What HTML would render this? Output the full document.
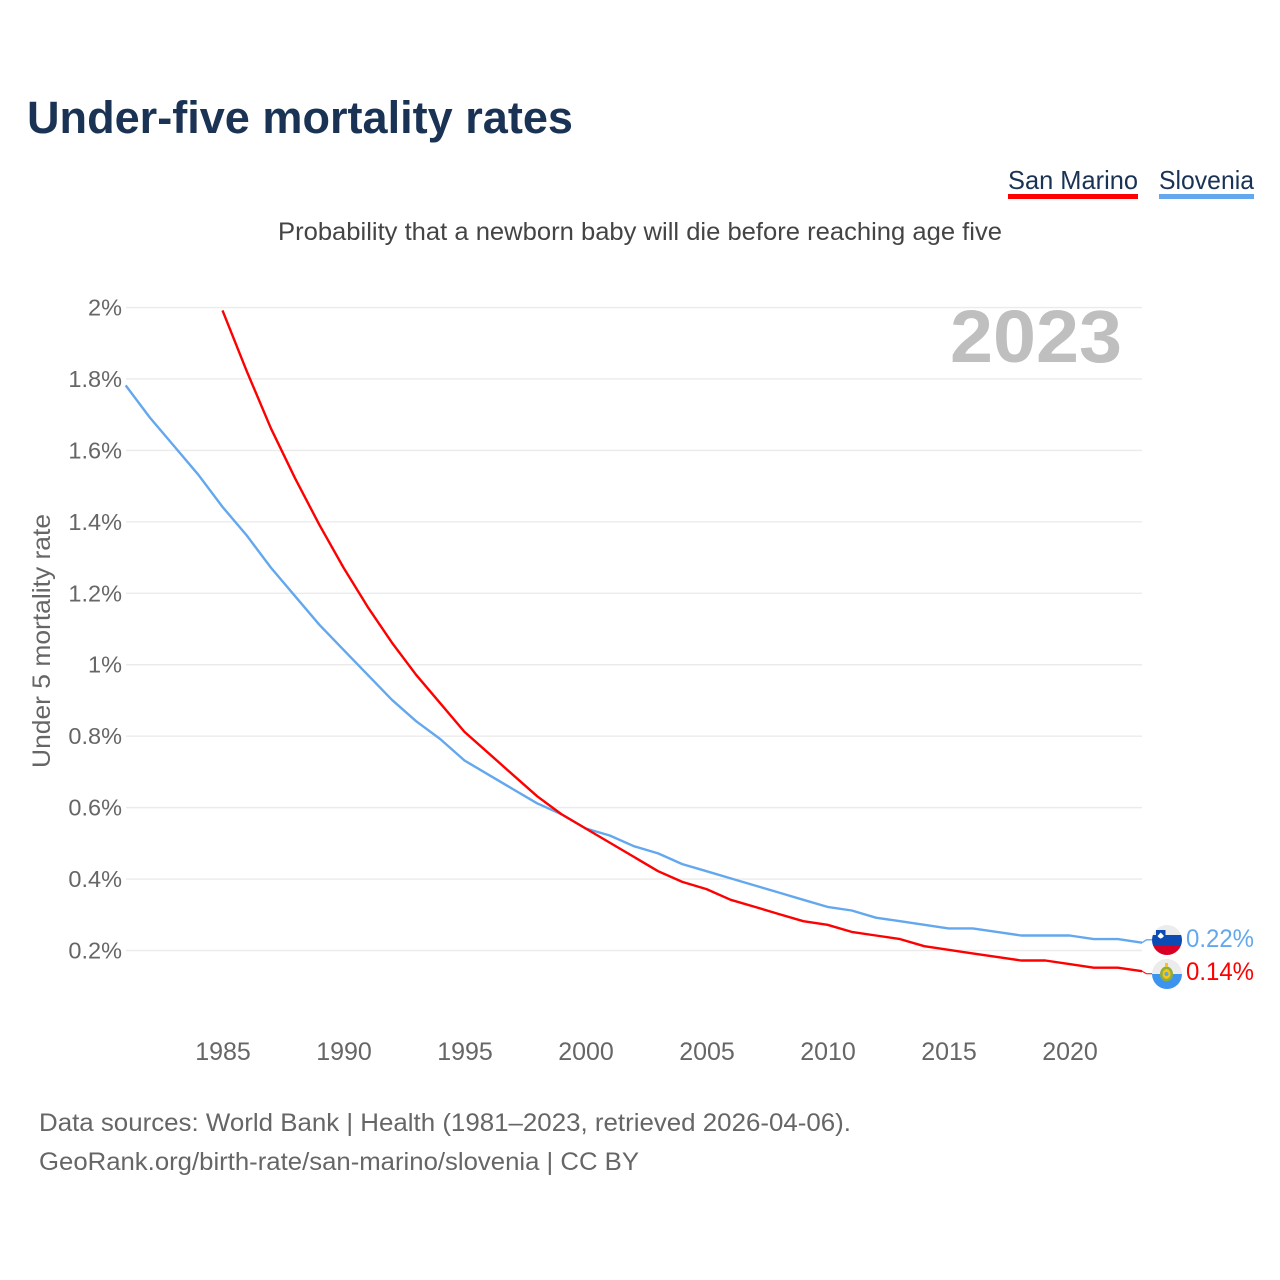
<!DOCTYPE html>
<html>
<head>
<meta charset="utf-8">
<style>
html,body{margin:0;padding:0;background:#fff}
svg{display:block}
text{font-family:"Liberation Sans",sans-serif}
</style>
</head>
<body>
<svg id="chart" xmlns="http://www.w3.org/2000/svg" width="1280" height="1280" viewBox="0 0 1280 1280">
<defs>
<clipPath id="clip-si"><circle cx="1167" cy="940" r="15"/></clipPath>
<clipPath id="clip-sm"><circle cx="1167" cy="974" r="15"/></clipPath>
</defs>
<rect width="1280" height="1280" fill="#fff"/>
<text x="27" y="133" font-size="45" font-weight="700" fill="#1a3354" textLength="546" lengthAdjust="spacingAndGlyphs">Under-five mortality rates</text>
<text x="278" y="240" font-size="25" fill="#444" textLength="724" lengthAdjust="spacingAndGlyphs">Probability that a newborn baby will die before reaching age five</text>
<g>
<text x="1008" y="189" font-size="26" fill="#1a3354" textLength="130" lengthAdjust="spacingAndGlyphs">San Marino</text>
<rect x="1008" y="194" width="130" height="5" fill="#ff0000"/>
</g>
<g>
<text x="1159" y="189" font-size="26" fill="#1a3354" textLength="95" lengthAdjust="spacingAndGlyphs">Slovenia</text>
<rect x="1159" y="194" width="95" height="5" fill="#63a8ee"/>
</g>
<g id="grid"></g>
<g id="yticks"></g>
<g id="xticks"></g>
<text x="1122" y="362" text-anchor="end" font-size="74" font-weight="700" fill="#bfbfbf" textLength="172" lengthAdjust="spacingAndGlyphs">2023</text>
<text transform="translate(50,641) rotate(-90)" text-anchor="middle" font-size="25" fill="#666" textLength="254" lengthAdjust="spacingAndGlyphs">Under 5 mortality rate</text>
<g transform="translate(-0.5,-0.7)">
<path id="line-si" fill="none" stroke="#63a8ee" stroke-width="2.4" stroke-linejoin="round"/>
<path id="line-sm" fill="none" stroke="#ff0000" stroke-width="2.4" stroke-linejoin="round"/>
<path id="conn-si" fill="none" stroke="#63a8ee" stroke-width="1.4"/>
<path id="conn-sm" fill="none" stroke="#ff0000" stroke-width="1"/>
</g>
<g clip-path="url(#clip-si)">
<rect x="1152" y="925" width="30" height="10" fill="#ececec"/>
<rect x="1152" y="935" width="30" height="10" fill="#0b4bb3"/>
<rect x="1152" y="945" width="30" height="10" fill="#d80027"/>
<path d="M1156 930h9.500v5.500q0 3-4.750 4.500q-4.750-1.500-4.750-4.500z" fill="#0b4bb3"/>
<path d="M1157.500 936l3.250-3.500l3.250 3.500q-1 1.800-3.250 2.600q-2.250-.8-3.250-2.600z" fill="#fff"/>
</g>
<g clip-path="url(#clip-sm)">
<rect x="1152" y="959" width="30" height="15" fill="#ececec"/>
<rect x="1152" y="974" width="30" height="15" fill="#3d94ee"/>
<ellipse cx="1166.500" cy="974" rx="6.500" ry="7.500" fill="#8fae3a"/>
<ellipse cx="1166.500" cy="974" rx="4" ry="5" fill="#f5c518"/>
<circle cx="1166.500" cy="974" r="2" fill="#5aa7e8"/>
<rect x="1165" y="963" width="3" height="4" fill="#f5c518"/>
</g>
<text id="value-si" x="1186" y="947" font-size="25" fill="#63a8ee" textLength="68" lengthAdjust="spacingAndGlyphs"></text>
<text id="value-sm" x="1186" y="980" font-size="25" fill="#ff0000" textLength="68" lengthAdjust="spacingAndGlyphs"></text>
<text x="39" y="1131" font-size="25" fill="#666" textLength="812" lengthAdjust="spacingAndGlyphs">Data sources: World Bank | Health (1981–2023, retrieved 2026-04-06).</text>
<text x="39" y="1170" font-size="25" fill="#666" textLength="600" lengthAdjust="spacingAndGlyphs">GeoRank.org/birth-rate/san-marino/slovenia | CC BY</text>
</svg>
<script>
const yTickValues = [0.2, 0.4, 0.6, 0.8, 1, 1.2, 1.4, 1.6, 1.8, 2];
const xTickValues = [1985, 1990, 1995, 2000, 2005, 2010, 2015, 2020];
const sloveniaStartYear = 1981;
const sanMarinoStartYear = 1985;
const sloveniaValues = [1.78, 1.69, 1.61, 1.53, 1.44, 1.36, 1.27, 1.19, 1.11, 1.04, 0.97, 0.90, 0.84, 0.79, 0.73, 0.69, 0.65, 0.61, 0.58, 0.54, 0.52, 0.49, 0.47, 0.44, 0.42, 0.40, 0.38, 0.36, 0.34, 0.32, 0.31, 0.29, 0.28, 0.27, 0.26, 0.26, 0.25, 0.24, 0.24, 0.24, 0.23, 0.23, 0.22];
const sanMarinoValues = [1.99, 1.82, 1.66, 1.52, 1.39, 1.27, 1.16, 1.06, 0.97, 0.89, 0.81, 0.75, 0.69, 0.63, 0.58, 0.54, 0.50, 0.46, 0.42, 0.39, 0.37, 0.34, 0.32, 0.30, 0.28, 0.27, 0.25, 0.24, 0.23, 0.21, 0.20, 0.19, 0.18, 0.17, 0.17, 0.16, 0.15, 0.15, 0.14];

const NS = 'http://www.w3.org/2000/svg';
const xScale = function (year) { return 223 + (year - 1985) * 24.2; };
const yScale = function (v) { return 950.5 - (v - 0.2) * 357.2; };

const grid = document.getElementById('grid');
const yticks = document.getElementById('yticks');
const xticks = document.getElementById('xticks');

yTickValues.forEach(function (v) {
  const line = document.createElementNS(NS, 'line');
  
  
  line.setAttribute('x1', 126);
  line.setAttribute('x2', 1142);
  line.setAttribute('y1', yScale(v));
  line.setAttribute('y2', yScale(v));
  line.setAttribute('stroke', '#ebebeb');
  line.setAttribute('stroke-width', '1.4');
  grid.appendChild(line);

  const label = document.createElementNS(NS, 'text');
  
  
  label.setAttribute('x', 122);
  label.setAttribute('y', yScale(v) + 8);
  label.setAttribute('text-anchor', 'end');
  label.setAttribute('font-size', '23.5');
  label.setAttribute('fill', '#666');
  label.textContent = v + '%';
  yticks.appendChild(label);
});

xTickValues.forEach(function (year) {
  const label = document.createElementNS(NS, 'text');
  
  
  label.setAttribute('x', xScale(year));
  label.setAttribute('y', 1060);
  label.setAttribute('text-anchor', 'middle');
  label.setAttribute('font-size', '25');
  label.setAttribute('fill', '#666');
  label.textContent = year;
  xticks.appendChild(label);
});

const linePath = function (values, startYear) {
  return values.map(function (v, i) {
    return (i ? 'L' : 'M') + xScale(startYear + i).toFixed(1) + ' ' + yScale(v).toFixed(1);
  }).join('');
};
document.getElementById('line-si').setAttribute('d', linePath(sloveniaValues, sloveniaStartYear));
document.getElementById('line-sm').setAttribute('d', linePath(sanMarinoValues, sanMarinoStartYear));

const lastSi = sloveniaValues[sloveniaValues.length - 1];
const lastSm = sanMarinoValues[sanMarinoValues.length - 1];
const endX = xScale(2023);
document.getElementById('conn-si').setAttribute('d', 'M' + endX + ' ' + yScale(lastSi) + 'L1147 940.500H1153');
document.getElementById('conn-sm').setAttribute('d', 'M' + endX + ' ' + yScale(lastSm) + 'L1147 974.500H1153');
document.getElementById('value-si').textContent = lastSi + '%';
document.getElementById('value-sm').textContent = lastSm + '%';
</script>
</body>
</html>
